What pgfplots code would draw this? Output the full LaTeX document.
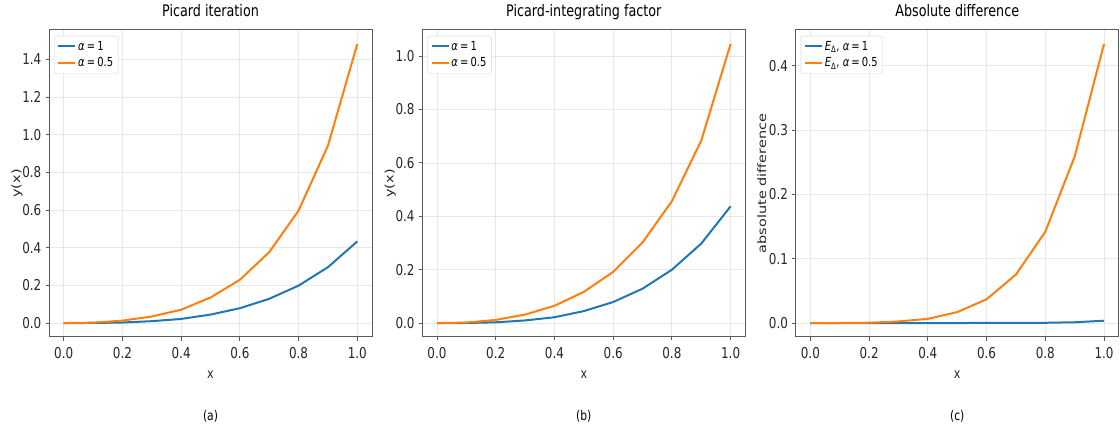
\documentclass[border=0pt]{standalone}
\usepackage{fontspec}
\setmainfont{DejaVu Sans}[FakeStretch=0.8]
\newfontfamily\ylfont{DejaVu Sans}
\usepackage{graphicx}
\usepackage{pgfplots}
\usepackage{pgfplotstable}
\pgfplotsset{compat=1.18}
\definecolor{cA}{HTML}{1F77B4}
\definecolor{cB}{HTML}{FF7F0E}

\pgfplotstableread{
x y
0.0 0.0
0.1 0.0005
0.2 0.003
0.3 0.010
0.4 0.022
0.5 0.045
0.6 0.079
0.7 0.129
0.8 0.199
0.9 0.297
1.0 0.434
}\aone
\pgfplotstableread{
x y
0.0 0.0
0.1 0.002
0.2 0.013
0.3 0.035
0.4 0.071
0.5 0.136
0.6 0.230
0.7 0.377
0.8 0.598
0.9 0.943
1.0 1.483
}\atwo
\pgfplotstableread{
x y
0.0 0.0
0.1 0.0005
0.2 0.003
0.3 0.010
0.4 0.022
0.5 0.045
0.6 0.079
0.7 0.129
0.8 0.200
0.9 0.298
1.0 0.4376
}\bone
\pgfplotstableread{
x y
0.0 0.0
0.1 0.002
0.2 0.012
0.3 0.032
0.4 0.065
0.5 0.117
0.6 0.192
0.7 0.302
0.8 0.457
0.9 0.684
1.0 1.046
}\btwo
\pgfplotstableread{
x y
0.0 0.0
0.1 0.0
0.2 0.0
0.3 0.0
0.4 0.0
0.5 0.00005
0.6 0.0001
0.7 0.0002
0.8 0.0004
0.9 0.0012
1.0 0.0036
}\cone
\pgfplotstableread{
x y
0.0 0.0
0.1 0.00005
0.2 0.0005
0.3 0.0025
0.4 0.0065
0.5 0.017
0.6 0.037
0.7 0.0755
0.8 0.142
0.9 0.259
1.0 0.434
}\ctwo

\pgfplotsset{
  myax/.style={
    scale only axis,
    width=323bp, height=307bp,
    anchor=south west,
    xmin=-0.05, xmax=1.05,
    xtick={0,0.2,0.4,0.6,0.8,1.0},
    grid=major,
    major grid style={draw=gray!18, line width=0.8bp},
    axis line style={draw=black!65, line width=1bp},
    tick align=outside,
    xtick pos=left, ytick pos=left,
    major tick length=3.5bp,
    every tick/.style={draw=black!65, line width=0.9bp},
    /pgf/number format/assume math mode=true,
    /pgf/number format/fixed,
    /pgf/number format/fixed zerofill,
    /pgf/number format/precision=1,
    ticklabel style={font=\fontsize{15}{16}\selectfont, text=black!85},
    xticklabel style={anchor=north, inner sep=0pt, yshift=-7bp},
    yticklabel style={anchor=east, inner sep=0pt, xshift=-4bp},
    scaled y ticks=false,
    xlabel={x},
    xlabel style={at={(axis description cs:0.5,0)}, anchor=base, yshift=-41bp, inner sep=0pt, font=\fontsize{14}{15}\selectfont, text=black!85},
    ylabel style={at={([xshift=-32bp]axis description cs:0,0.5)}, anchor=center, font=\fontsize{14.5}{15}\ylfont, text=black!85},
    title style={at={(axis description cs:0.5,1)}, anchor=base, yshift=8bp, inner sep=0pt, font=\fontsize{16}{17}\selectfont},
    legend style={at={(axis description cs:0,1)}, anchor=north west, xshift=5bp, yshift=-6bp,
      draw=gray!35, rounded corners=2bp, fill=white, font=\fontsize{12.5}{13}\selectfont,
      inner xsep=3bp, inner ysep=3bp, row sep=2bp},
    legend cell align=left,
    legend image code/.code={\draw[mark repeat=2,mark phase=2,#1] plot coordinates {(0bp,0bp) (8.5bp,0bp) (17bp,0bp)};},
  }
}

\begin{document}
\begin{tikzpicture}
\path[use as bounding box] (0bp,0bp) rectangle (1120bp,432bp);

\begin{axis}[myax, at={(49bp,95bp)},
  ymin=-0.074, ymax=1.557,
  ytick={0,0.2,0.4,0.6,0.8,1.0,1.2,1.4},
  title={Picard iteration},
  ylabel={\scalebox{1}[0.8]{y(x)}},
  after end axis/.append code={\node[anchor=base, font=\fontsize{13.5}{14}\selectfont] at ([yshift=-83bp]axis description cs:0.5,0) {(a)};}]
\addplot[cA, line width=2bp] table[x=x,y=y]{\aone};
\addplot[cB, line width=2bp] table[x=x,y=y]{\atwo};
\legend{{\textit{α}\,=\,1}, {\textit{α}\,=\,0.5}}
\end{axis}

\begin{axis}[myax, at={(422.3bp,95bp)},
  ymin=-0.052, ymax=1.098,
  ytick={0,0.2,0.4,0.6,0.8,1.0},
  title={Picard-integrating factor},
  ylabel={\scalebox{1}[0.8]{y(x)}},
  after end axis/.append code={\node[anchor=base, font=\fontsize{13.5}{14}\selectfont] at ([yshift=-83bp]axis description cs:0.5,0) {(b)};}]
\addplot[cA, line width=2bp] table[x=x,y=y]{\bone};
\addplot[cB, line width=2bp] table[x=x,y=y]{\btwo};
\legend{{\textit{α}\,=\,1}, {\textit{α}\,=\,0.5}}
\end{axis}

\begin{axis}[myax, at={(795.7bp,95bp)},
  ymin=-0.0217, ymax=0.4557,
  ytick={0,0.1,0.2,0.3,0.4},
  title={Absolute difference},
  ylabel={\scalebox{1}[0.8]{absolute difference}},
  ylabel style={at={([xshift=-34bp]axis description cs:0,0.5)}},
  after end axis/.append code={\node[anchor=base, font=\fontsize{13.5}{14}\selectfont] at ([yshift=-83bp]axis description cs:0.5,0) {(c)};}]
\addplot[cA, line width=2bp] table[x=x,y=y]{\cone};
\addplot[cB, line width=2bp] table[x=x,y=y]{\ctwo};
\legend{{\textit{E}\textsubscript{Δ}, \textit{α}\,=\,1}, {\textit{E}\textsubscript{Δ}, \textit{α}\,=\,0.5}}
\end{axis}
\end{tikzpicture}
\end{document}
